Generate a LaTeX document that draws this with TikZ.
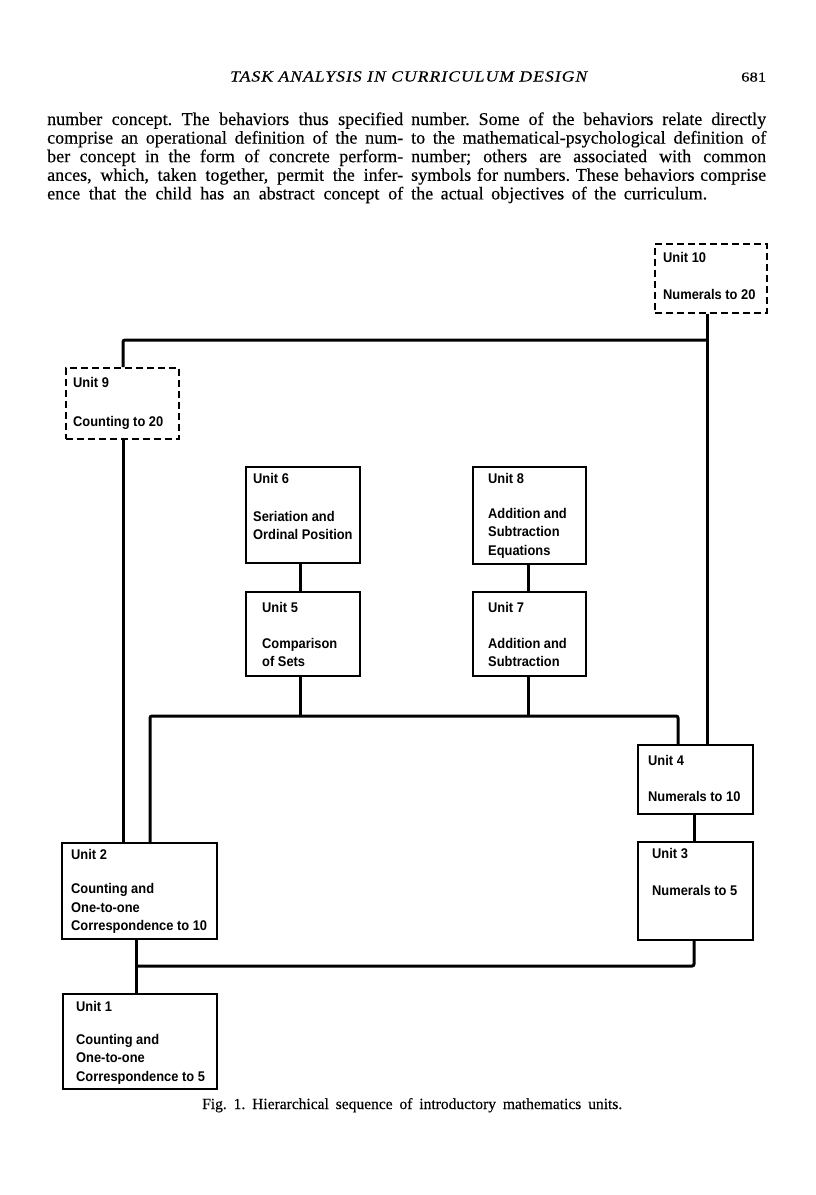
\documentclass[tikz,border=0pt]{standalone}
\usepackage{fontspec}
\usepackage{graphicx}
\setmainfont{Liberation Serif}[FakeBold=0.35]
\newfontfamily\unitfont{Liberation Sans}
\newfontfamily\hdfont{Liberation Serif}[LetterSpace=6,FakeBold=0.35]
\frenchspacing
\tikzset{
  ubox/.style={draw=black, line width=1.6pt, rectangle, inner sep=0pt, anchor=north west},
  dbox/.style={ubox, dash pattern=on 7pt off 4pt},
  conn/.style={line width=3pt, rounded corners=2pt},
  utext/.style={font=\unitfont\bfseries\fontsize{13}{15}\selectfont, anchor=base west, inner sep=0pt},
  body/.style={font=\fontsize{18}{19}\selectfont, anchor=base west, inner sep=0pt},
  plain/.style={anchor=base west, inner sep=0pt},
}
\newcommand{\ut}[1]{\scalebox{0.99}[1.08]{#1}}
\begin{document}
\begin{tikzpicture}[x=1pt,y=-1pt]
\useasboundingbox (0,0) rectangle (816,1195);

% header
\node[plain] (hd) at (230,81.5) {\resizebox{357pt}{\height}{\fontsize{15.5}{17}\selectfont\hdfont\itshape TASK ANALYSIS IN CURRICULUM DESIGN}};
\node[plain] (pg) at (741,81.5) {\resizebox{25pt}{\height}{\fontsize{13.5}{15}\selectfont 681}};

% body text
\node[body] (l1) at (47,125) {\makebox[356pt][s]{number concept. The behaviors thus specified}};
\node[body] (l2) at (47,143.6) {\makebox[356pt][s]{comprise an operational definition of the num-}};
\node[body] (l3) at (47,162.2) {\makebox[356pt][s]{ber concept in the form of concrete perform-}};
\node[body] (l4) at (47,180.8) {\makebox[356pt][s]{ances, which, taken together, permit the infer-}};
\node[body] (l5) at (47,199.4) {\makebox[356pt][s]{ence that the child has an abstract concept of}};
\node[body] (r1) at (411,125) {\makebox[355pt][s]{number. Some of the behaviors relate directly}};
\node[body] (r2) at (411,143.6) {\makebox[355pt][s]{to the mathematical-psychological definition of}};
\node[body] (r3) at (411,162.2) {\makebox[355pt][s]{number; others are associated with common}};
\node[body] (r4) at (411,180.8) {\makebox[355pt][s]{symbols for numbers. These behaviors comprise}};
\node[body] (r5) at (411,199.4) {\makebox[296pt][s]{the actual objectives of the curriculum.}};

% boxes
\node[dbox, minimum width=112pt, minimum height=69pt] (u10) at (654,243) {};
\node[dbox, minimum width=113pt, minimum height=71pt] (u9) at (65,367) {};
\node[ubox, minimum width=114pt, minimum height=96pt] (u6) at (245,466) {};
\node[ubox, minimum width=113pt, minimum height=97pt] (u8) at (472,466) {};
\node[ubox, minimum width=114pt, minimum height=84pt] (u5) at (245,591) {};
\node[ubox, minimum width=113pt, minimum height=84pt] (u7) at (472,591) {};
\node[ubox, minimum width=115pt, minimum height=69pt] (u4) at (637,744) {};
\node[ubox, minimum width=115pt, minimum height=98pt] (u3) at (637,841) {};
\node[ubox, minimum width=155pt, minimum height=96pt] (u2) at (61,842) {};
\node[ubox, minimum width=154pt, minimum height=95pt] (u1) at (62,993) {};

% box texts
\node[utext] (t10a) at (663,262) {\ut{Unit 10}};
\node[utext] (t10b) at (663,299) {\ut{Numerals to 20}};
\node[utext] (t9a) at (73,387.5) {\ut{Unit 9}};
\node[utext] (t9b) at (73,426.5) {\ut{Counting to 20}};
\node[utext] (t6a) at (253,483.5) {\ut{Unit 6}};
\node[utext] (t6b) at (253,521.5) {\ut{Seriation and}};
\node[utext] (t6c) at (253,539.5) {\ut{Ordinal Position}};
\node[utext] (t8a) at (488,483.5) {\ut{Unit 8}};
\node[utext] (t8b) at (488,518.5) {\ut{Addition and}};
\node[utext] (t8c) at (488,536.5) {\ut{Subtraction}};
\node[utext] (t8d) at (488,555) {\ut{Equations}};
\node[utext] (t5a) at (262,612.5) {\ut{Unit 5}};
\node[utext] (t5b) at (262,648.5) {\ut{Comparison}};
\node[utext] (t5c) at (262,666.5) {\ut{of Sets}};
\node[utext] (t7a) at (488,612.5) {\ut{Unit 7}};
\node[utext] (t7b) at (488,648.5) {\ut{Addition and}};
\node[utext] (t7c) at (488,666.5) {\ut{Subtraction}};
\node[utext] (t4a) at (648,765.5) {\ut{Unit 4}};
\node[utext] (t4b) at (648,801.5) {\ut{Numerals to 10}};
\node[utext] (t3a) at (652,858.5) {\ut{Unit 3}};
\node[utext] (t3b) at (652,895.5) {\ut{Numerals to 5}};
\node[utext] (t2a) at (71,859) {\ut{Unit 2}};
\node[utext] (t2b) at (71,893.5) {\ut{Counting and}};
\node[utext] (t2c) at (71,912) {\ut{One-to-one}};
\node[utext] (t2d) at (71,930.5) {\ut{Correspondence to 10}};
\node[utext] (t1a) at (76,1011) {\ut{Unit 1}};
\node[utext] (t1b) at (76,1044) {\ut{Counting and}};
\node[utext] (t1c) at (76,1062.5) {\ut{One-to-one}};
\node[utext] (t1d) at (76,1081) {\ut{Correspondence to 5}};

% caption
\node[plain] (cap) at (202,1109) {\makebox[420pt][s]{\fontsize{15.5}{17}\selectfont Fig. 1. Hierarchical sequence of introductory mathematics units.}};

% connector coordinates
\coordinate (xA) at (707,0);
\coordinate (xB) at (123,0);
\coordinate (xC) at (150,0);
\coordinate (xD) at (678,0);
\coordinate (xE) at (694,0);
\coordinate (xF) at (136,0);
\coordinate (xG) at (300,0);
\coordinate (xH) at (528,0);
\coordinate (jA) at (707,340);
\coordinate (jB) at (300,716);
\coordinate (jC) at (528,716);
\coordinate (jD) at (136,966);

% connectors
\draw[conn] (u10.south -| xA) -- (u4.north -| xA);
\draw[conn] (u9.north -| xB) |- (jA);
\draw[conn] (u9.south -| xB) -- (u2.north -| xB);
\draw[conn] (u6.south -| xG) -- (u5.north -| xG);
\draw[conn] (u8.south -| xH) -- (u7.north -| xH);
\draw[conn] (u2.north -| xC) |- (jB) -- (jC) -| (u4.north -| xD);
\draw[conn] (u5.south -| xG) -- (jB);
\draw[conn] (u7.south -| xH) -- (jC);
\draw[conn] (u4.south -| xE) -- (u3.north -| xE);
\draw[conn] (u3.south -| xE) |- (jD);
\draw[conn] (u2.south -| xF) -- (u1.north -| xF);
\end{tikzpicture}
\end{document}
